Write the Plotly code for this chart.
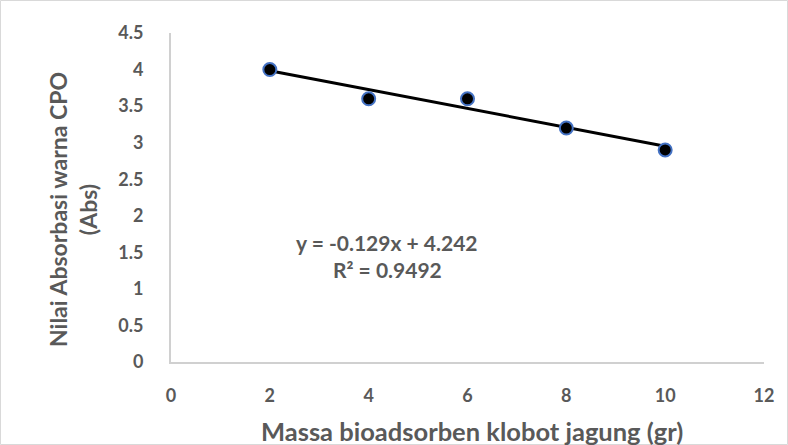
import plotly.graph_objects as go

x_vals = [2, 4, 6, 8, 10]
y_vals = [4.0, 3.6, 3.6, 3.2, 2.9]
slope = -0.129
intercept = 4.242
trend_x = [2, 10]
trend_y = [slope * v + intercept for v in trend_x]
x_ticks = [0, 2, 4, 6, 8, 10, 12]
x_tick_text = ["0", "2", "4", "6", "8", "10", "12"]
y_ticks = [0, 0.5, 1, 1.5, 2, 2.5, 3, 3.5, 4, 4.5]
y_tick_text = ["0", "0.5", "1", "1.5", "2", "2.5", "3", "3.5", "4", "4.5"]
x_title = "Massa bioadsorben klobot jagung (gr)"
y_title = "Nilai Absorbasi warna CPO<br>(Abs)"
eq_text = "y = -0.129x + 4.242"
r2_text = "R² = 0.9492"

font_fam = "Lato, Open Sans, Liberation Sans, Arial, sans-serif"
txt_col = "#595959"

W, H = 788, 445
L, R, T, B = 171, 24, 33, 83
pw, ph = W - L - R, H - T - B

def px(xp):
    return (xp - L) / pw

def py(yp):
    return (H - B - yp) / ph

fig = go.Figure()
fig.add_trace(go.Scatter(x=trend_x, y=trend_y, mode="lines",
                         line=dict(color="black", width=3), showlegend=False, hoverinfo="skip"))
fig.add_trace(go.Scatter(x=x_vals, y=y_vals, mode="markers",
                         marker=dict(color="black", size=13, line=dict(color="#4472C4", width=2)),
                         showlegend=False))

ann_common = dict(showarrow=False, xanchor="center", yanchor="middle")
fig.add_annotation(x=4.38, y=1.64, xref="x", yref="y", text="<b>%s</b>" % eq_text,
                   font=dict(family=font_fam, size=21, color=txt_col), **ann_common)
fig.add_annotation(x=4.38, y=1.26, xref="x", yref="y", text="<b>%s</b>" % r2_text,
                   font=dict(family=font_fam, size=21, color=txt_col), **ann_common)
fig.add_annotation(x=px(472), y=py(431), xref="paper", yref="paper",
                   text="<b>%s</b>" % x_title,
                   font=dict(family=font_fam, size=25.5, color=txt_col), **ann_common)
fig.add_annotation(x=px(73), y=py(210), xref="paper", yref="paper",
                   text="<b>%s</b>" % y_title, textangle=-90,
                   font=dict(family=font_fam, size=23, color=txt_col), **ann_common)

fig.update_layout(
    width=W, height=H,
    margin=dict(l=L, r=R, t=T, b=B),
    plot_bgcolor="white", paper_bgcolor="white",
    font=dict(family=font_fam, color=txt_col),
    xaxis=dict(range=[0, 12], tickvals=x_ticks, ticktext=["<b>%s</b>" % t for t in x_tick_text],
               showgrid=False, zeroline=False, automargin=False,
               showline=True, linecolor="#D0D0D0", linewidth=2, ticks="", ticklabelstandoff=16,
               tickfont=dict(size=18, family=font_fam, color=txt_col)),
    yaxis=dict(range=[0, 4.5], tickvals=y_ticks, ticktext=["<b>%s</b>" % t for t in y_tick_text],
               showgrid=False, zeroline=False, automargin=False,
               showline=True, linecolor="#D0D0D0", linewidth=2, ticks="", ticklabelstandoff=22,
               tickfont=dict(size=18, family=font_fam, color=txt_col)),
    shapes=[dict(type="rect", xref="paper", yref="paper", x0=px(0.5), x1=px(787.5),
                 y0=py(444.5), y1=py(0.5), line=dict(color="#D9D9D9", width=1))],
)

fig.write_html("out.html", config={"displayModeBar": False},
               post_script="document.body.style.margin='0';document.body.style.padding='0';document.body.style.overflow='hidden';")
